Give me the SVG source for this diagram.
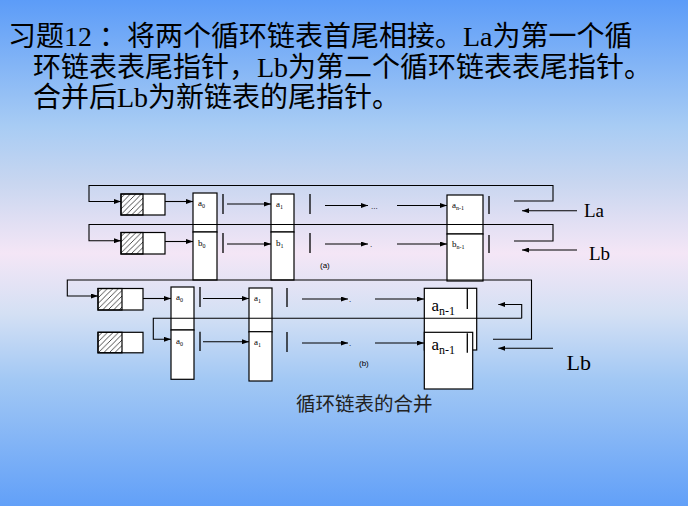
<svg xmlns="http://www.w3.org/2000/svg" width="688" height="506" viewBox="0 0 688 506">
<defs>
<linearGradient id="bg" x1="0" y1="0" x2="0" y2="1">
<stop offset="0" stop-color="#5c9cf8"/>
<stop offset="0.25" stop-color="#a8ccf4"/>
<stop offset="0.36" stop-color="#c8d6f0"/>
<stop offset="0.5" stop-color="#f4e6f6"/>
<stop offset="0.62" stop-color="#d4e0f4"/>
<stop offset="0.75" stop-color="#a2c8f4"/>
<stop offset="1" stop-color="#62a0f8"/>
</linearGradient>
<pattern id="hatch" patternUnits="userSpaceOnUse" width="5.5" height="5.5">
<path d="M-1,1 L1,-1 M0,5.5 L5.5,0 M4.5,6.5 L6.5,4.5" stroke="#000" stroke-width="0.7"/>
</pattern>
<marker id="ah" viewBox="0 0 7 5" refX="7" refY="2.5" markerWidth="7" markerHeight="5" markerUnits="userSpaceOnUse" orient="auto">
<path d="M0,0 L7,2.5 L0,5 z" fill="#000"/>
</marker>
</defs>
<style>
.box{fill:#fff;stroke:#000;stroke-width:1.2}
.hat{fill:url(#hatch);stroke:#000;stroke-width:1.2}
.ln{fill:none;stroke:#000;stroke-width:1.2}
.ar{fill:none;stroke:#000;stroke-width:1.1;marker-end:url(#ah)}
.mk{stroke:#000;stroke-width:1.3}
.lb{font-family:"Liberation Serif",serif;font-size:9px;fill:#000}
.sub{font-size:6px}
.big{font-family:"Liberation Serif",serif;font-size:17px;fill:#000}
.bsub{font-size:12px}
.ptr{font-family:"Liberation Serif",serif;fill:#000}
.title{font-family:"Liberation Serif","Noto Sans CJK SC",serif;font-size:28px;fill:#000}
.cap{font-family:"Noto Sans CJK SC","Liberation Serif",sans-serif;font-size:19.5px;fill:#222}
.sm{font-family:"Liberation Sans",sans-serif;font-size:8px;fill:#000}
</style>
<rect x="0" y="0" width="688" height="506" fill="url(#bg)"/>

<g id="title">
<text class="title" x="8" y="46">习题12 ：将两个循环链表首尾相接。La为第一个循</text>
<text class="title" x="33" y="77">环链表表尾指针，Lb为第二个循环链表表尾指针。</text>
<text class="title" x="33" y="107">合并后Lb为新链表的尾指针。</text>
</g>

<!-- (a) list A -->
<g id="a-headA"><rect class="box" x="121" y="194" width="44" height="21"/><rect class="hat" x="121" y="194" width="22" height="21"/></g>
<g id="a-a0"><rect class="box" x="193" y="193" width="24" height="39"/><text class="lb" x="198" y="206">a<tspan class="sub" dy="2">0</tspan></text><line class="mk" x1="223" y1="194" x2="223" y2="214"/></g>
<g id="a-a1"><rect class="box" x="271" y="194" width="23" height="38"/><text class="lb" x="276" y="207">a<tspan class="sub" dy="2">1</tspan></text><line class="mk" x1="310" y1="194" x2="310" y2="214"/></g>
<g id="a-an1"><rect class="box" x="447" y="195" width="36" height="39"/><text class="lb" x="452" y="208">a<tspan class="sub" dy="2">n-1</tspan></text><line class="mk" x1="489" y1="196" x2="489" y2="214"/></g>

<!-- (a) list B -->
<g id="a-headB"><rect class="box" x="121" y="232.5" width="44" height="21.5"/><rect class="hat" x="121" y="232.5" width="22" height="21.5"/></g>
<g id="a-b0"><rect class="box" x="193" y="232" width="24" height="48"/><text class="lb" x="198" y="246">b<tspan class="sub" dy="2">0</tspan></text><line class="mk" x1="223" y1="233" x2="223" y2="253"/></g>
<g id="a-b1"><rect class="box" x="271" y="232" width="23" height="48"/><text class="lb" x="276" y="246">b<tspan class="sub" dy="2">1</tspan></text><line class="mk" x1="310" y1="233" x2="310" y2="253"/></g>
<g id="a-bn1"><rect class="box" x="447" y="234" width="36" height="47"/><text class="lb" x="452" y="247">b<tspan class="sub" dy="2">n-1</tspan></text><line class="mk" x1="489" y1="235" x2="489" y2="253"/></g>

<text class="sm" x="371" y="209">...</text>
<text class="sm" x="370" y="247">.</text>
<text class="sm" x="320" y="268">(a)</text>
<text class="ptr" x="584" y="217" font-size="19">La</text>
<text class="ptr" x="589" y="260" font-size="19">Lb</text>

<!-- (b) -->
<g id="b-head1"><rect class="box" x="98" y="288.5" width="45" height="21.5"/><rect class="hat" x="98" y="288.5" width="24" height="21.5"/></g>
<g id="b-a0top"><rect class="box" x="171" y="287" width="23" height="43"/><text class="lb" x="176" y="300">a<tspan class="sub" dy="2">0</tspan></text><line class="mk" x1="200" y1="287" x2="200" y2="307"/></g>
<g id="b-a1top"><rect class="box" x="249" y="288" width="23" height="44"/><text class="lb" x="254" y="301">a<tspan class="sub" dy="2">1</tspan></text><line class="mk" x1="287" y1="288" x2="287" y2="307"/></g>
<g id="b-an1top"><rect class="box" x="424.3" y="288.3" width="52.4" height="61.7"/><line class="mk" x1="467.3" y1="289" x2="467.3" y2="309"/><text class="big" x="431.5" y="310.5">a<tspan class="bsub" dy="4">n-1</tspan></text></g>

<g id="b-head2"><rect class="box" x="98" y="332.3" width="45" height="20.5"/><rect class="hat" x="98" y="332.3" width="24" height="20.5"/></g>
<g id="b-a0bot"><rect class="box" x="171" y="330" width="23" height="49.3"/><text class="lb" x="176" y="344">a<tspan class="sub" dy="2">0</tspan></text><line class="mk" x1="200" y1="331.7" x2="200" y2="351"/></g>
<g id="b-a1bot"><rect class="box" x="249" y="331.7" width="23" height="49.3"/><text class="lb" x="254" y="345">a<tspan class="sub" dy="2">1</tspan></text><line class="mk" x1="287" y1="332" x2="287" y2="352"/></g>
<g id="b-an1bot"><rect class="box" x="424.3" y="332.3" width="48.4" height="56.7"/><line class="mk" x1="467.3" y1="333.3" x2="467.3" y2="352.7"/><text class="big" x="431.5" y="350">a<tspan class="bsub" dy="4">n-1</tspan></text></g>

<text class="sm" x="349" y="302">.</text>
<text class="sm" x="349" y="346">.</text>
<text class="sm" x="359" y="366">(b)</text>
<text class="ptr" x="566.5" y="370" font-size="22">Lb</text>

<g id="connectors">
<!-- (a) -->
<path class="ar" d="M514,201 H553 V185.5 H89 V201.5 H121"/>
<path class="ar" d="M165,201.5 H193"/>
<path class="ar" d="M227,204 H271"/>
<path class="ar" d="M325,205.5 H368"/>
<path class="ar" d="M397,205.5 H447"/>
<path class="ar" d="M577,210.7 H522"/>
<path class="ar" d="M514,241 H553 V224.5 H89 V240.7 H121"/>
<path class="ar" d="M165,241.5 H193"/>
<path class="ar" d="M227,244 H271"/>
<path class="ar" d="M325,244 H368"/>
<path class="ar" d="M397,244 H447"/>
<path class="ar" d="M577,250 H522"/>
<!-- (b) -->
<path class="ar" d="M493,339.3 H531.5 V280 H67.3 V296 H98"/>
<path class="ar" d="M143,298.5 H171"/>
<path class="ar" d="M203,298.5 H249"/>
<path class="ar" d="M302,299 H348"/>
<path class="ar" d="M375,299 H424"/>
<path class="ar" d="M521.7,318.3 V304.5 H498.3"/>
<path class="ar" d="M521.7,318.3 H153.3 V339.3 H171"/>
<path class="ar" d="M203,341.7 H249"/>
<path class="ar" d="M302,343 H348"/>
<path class="ar" d="M375,343 H424"/>
<path class="ar" d="M553,348.3 H498.3"/>
</g>

<text class="cap" x="296" y="411">循环链表的合并</text>
</svg>
